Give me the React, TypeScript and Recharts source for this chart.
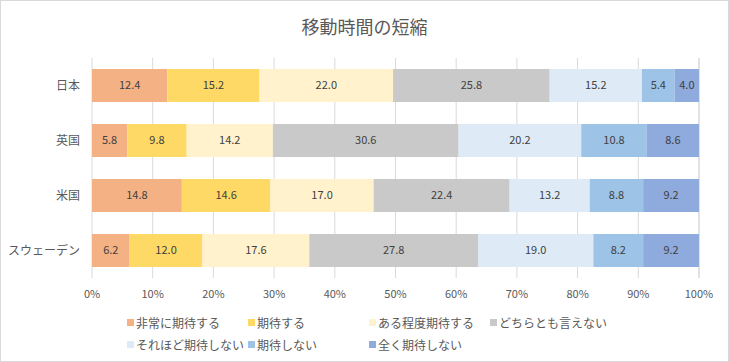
import { BarChart, Bar, XAxis, YAxis, CartesianGrid, LabelList } from 'recharts';

// ── data ──────────────────────────────────────────────────────────────────────

const COUNTRIES = ['日本', '英国', '米国', 'スウェーデン'];

const SERIES = [
  '非常に期待する',
  '期待する',
  'ある程度期待する',
  'どちらとも言えない',
  'それほど期待しない',
  '期待しない',
  '全く期待しない',
];

const COLORS = ['#F4B183', '#FFD966', '#FFF2CC', '#C9C9C9', '#DEEBF7', '#9DC3E6', '#8FAADC'];

const VERY_EXPECT = [12.4, 5.8, 14.8, 6.2];
const EXPECT      = [15.2, 9.8, 14.6, 12.0];
const SOMEWHAT    = [22.0, 14.2, 17.0, 17.6];
const NEUTRAL     = [25.8, 30.6, 22.4, 27.8];
const NOT_MUCH    = [15.2, 20.2, 13.2, 19.0];
const NOT_EXPECT  = [5.4, 10.8, 8.8, 8.2];
const NOT_AT_ALL  = [4.0, 8.6, 9.2, 9.2];

const VALUES = [VERY_EXPECT, EXPECT, SOMEWHAT, NEUTRAL, NOT_MUCH, NOT_EXPECT, NOT_AT_ALL];

const X_TICKS = [0, 10, 20, 30, 40, 50, 60, 70, 80, 90, 100];

const data = COUNTRIES.map((name, i) => {
  const row: Record<string, string | number> = { name };
  SERIES.forEach((s, j) => { row[s] = VALUES[j][i]; });
  return row;
});

// ── style ─────────────────────────────────────────────────────────────────────

const FONT = '"Noto Sans CJK JP", "Noto Sans", sans-serif';
const TEXT = '#595959';

export default function App() {
  return (
    <div
      style={{
        position: 'fixed', left: 0, top: 0, width: 729, height: 362,
        boxSizing: 'border-box', border: '1px solid #D9D9D9',
        background: '#fff', fontFamily: FONT, overflow: 'hidden',
      }}
    >
      <div
        style={{
          position: 'absolute', left: 0, right: 0, top: 12, textAlign: 'center',
          fontSize: 18, color: TEXT,
        }}
      >
        移動時間の短縮
      </div>

      <div style={{ position: 'absolute', left: -1, top: -1 }}>
        <BarChart
          width={729}
          height={362}
          data={data}
          layout="vertical"
          barCategoryGap="20%"
          margin={{ top: 58, right: 30, bottom: 64, left: 0 }}
        >
          <CartesianGrid horizontal={false} stroke="#D9D9D9" />
          <XAxis
            type="number"
            domain={[0, 100]}
            ticks={X_TICKS}
            tickFormatter={(v) => `${v}%`}
            axisLine={false}
            tickLine={false}
            tickMargin={6}
            height={20}
            tick={{ fontSize: 11, fill: TEXT, fontFamily: FONT }}
          />
          <YAxis
            type="category"
            dataKey="name"
            width={92}
            axisLine={false}
            tickLine={false}
            tickMargin={6}
            tick={{ fontSize: 12, fill: TEXT, fontFamily: FONT }}
          />
          {SERIES.map((s, j) => (
            <Bar key={s} dataKey={s} stackId="a" fill={COLORS[j]} isAnimationActive={false}>
              <LabelList
                dataKey={s}
                position="center"
                formatter={(v: number) => v.toFixed(1)}
                style={{ fontSize: 11, fill: '#404040', fontFamily: FONT }}
              />
            </Bar>
          ))}
        </BarChart>
      </div>

      {/* legend */}
      <div
        style={{
          position: 'absolute', left: 126, top: 313, width: 500,
          display: 'flex', flexWrap: 'wrap', rowGap: 6,
          fontSize: 12, color: TEXT,
        }}
      >
        {SERIES.map((s, j) => (
          <div key={s} style={{ width: 121, height: 16, display: 'flex', alignItems: 'center', whiteSpace: 'nowrap' }}>
            <span style={{ width: 7, height: 7, background: COLORS[j], marginRight: 2, flexShrink: 0 }} />
            {s}
          </div>
        ))}
      </div>
    </div>
  );
}
